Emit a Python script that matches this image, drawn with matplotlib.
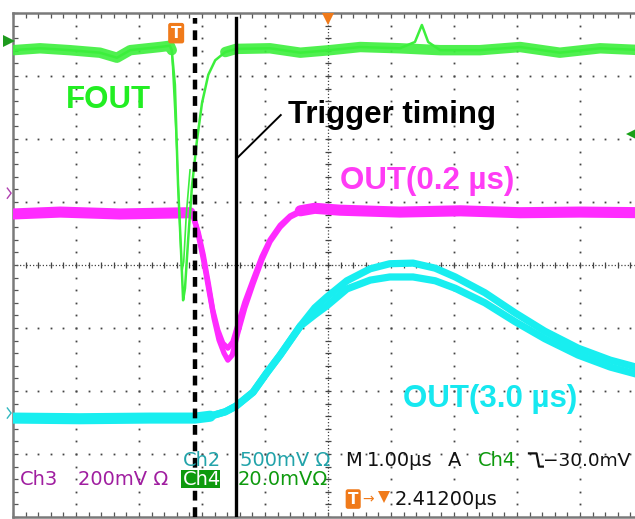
import numpy as np
import matplotlib
matplotlib.use("Agg")
import matplotlib.pyplot as plt
from matplotlib.patches import Rectangle

# ---------------- data (time in µs from left edge, level in screen divisions) ----------
t_fout = [0.00, 0.43, 0.90, 1.38, 1.65, 1.86, 2.33, 2.49, 2.52, 2.57, 2.62, 2.67, 2.70, 2.73,
          2.78, 2.84, 2.92, 3.00, 3.10, 3.21, 3.37, 3.54, 4.08, 4.56, 5.03, 5.51, 6.14, 6.38,
          6.49, 6.59, 6.78, 7.41, 8.05, 8.68, 9.32, 10.0]
v_fout = [7.41, 7.44, 7.41, 7.37, 7.29, 7.41, 7.46, 7.48, 7.41, 6.86, 5.27, 4.16, 3.44, 3.63,
          4.40, 5.24, 5.98, 6.57, 7.02, 7.25, 7.38, 7.43, 7.44, 7.37, 7.41, 7.46, 7.44, 7.54,
          7.81, 7.54, 7.41, 7.41, 7.46, 7.37, 7.44, 7.41]
t_fout2 = [2.52, 2.60, 2.65, 2.68, 2.71, 2.75, 2.81]
v_fout2 = [7.41, 5.83, 4.56, 3.89, 4.05, 4.79, 5.51]

t_out02 = [0.00, 0.75, 1.70, 2.81, 2.86, 2.94, 3.02, 3.10, 3.17, 3.25, 3.33, 3.41, 3.49, 3.57,
           3.68, 3.81, 3.95, 4.08, 4.24, 4.40, 4.56, 4.79, 5.19, 6.14, 7.10, 8.05, 9.00, 10.0]
v_out02 = [4.81, 4.84, 4.81, 4.83, 4.78, 4.52, 4.16, 3.71, 3.29, 2.97, 2.76, 2.68, 2.78, 3.05,
           3.41, 3.76, 4.13, 4.40, 4.63, 4.78, 4.86, 4.90, 4.87, 4.84, 4.86, 4.83, 4.84, 4.83]
t_out02b = [2.81, 2.87, 2.95, 3.03, 3.11, 3.19, 3.27, 3.35, 3.41, 3.48, 3.56, 3.68, 3.81, 3.95,
            4.08, 4.24, 4.40, 4.56]
v_out02b = [4.83, 4.75, 4.44, 4.05, 3.60, 3.16, 2.81, 2.60, 2.49, 2.57, 2.89, 3.32, 3.70, 4.08,
            4.37, 4.60, 4.76, 4.84]

t_out30_base = [0.00, 1.06, 2.17, 2.89, 3.13, 3.37, 3.54, 3.81, 4.03, 4.24, 4.56]
v_out30_base = [1.57, 1.56, 1.57, 1.57, 1.60, 1.67, 1.76, 1.98, 2.29, 2.57, 3.03]
t_out30_tail = [4.79, 4.98, 5.30, 5.67, 5.98, 6.35, 6.70, 7.02, 7.49, 7.97, 8.44, 8.97, 9.48, 10.0]
v_out30_up = [3.32, 3.49, 3.75, 3.94, 4.02, 4.03, 3.95, 3.81, 3.56, 3.24, 2.95, 2.68, 2.49, 2.35]
v_out30_low = [3.21, 3.35, 3.62, 3.76, 3.81, 3.81, 3.75, 3.63, 3.40, 3.10, 2.83, 2.57, 2.38, 2.24]

cursor_times = [2.89, 3.54]          # dashed, solid
trigger_label = "Trigger timing"
ch_labels = ["FOUT", "OUT(0.2 µs)", "OUT(3.0 µs)"]

# ---------------- figure ----------------
W, H = 635, 519
fig = plt.figure(figsize=(W / 100, H / 100), dpi=100)
fig.patch.set_facecolor("white")
ax = fig.add_axes([13 / W, 2 / H, 630 / W, 504 / H])
ax.set_xlim(0, 10)
ax.set_ylim(0, 8)
ax.set_facecolor("white")

# border ticks
ax.set_xticks(np.arange(0, 10.001, 0.2))
ax.set_yticks(np.arange(0, 8.001, 0.2))
ax.tick_params(direction="in", length=3.5, width=0.9, color="#555555",
               top=True, right=True, labelbottom=False, labelleft=False)
for s in ax.spines.values():
    s.set_color("#7a7a7a")
    s.set_linewidth(1.8)

gcol = "#444444"
fine = np.arange(0, 10.001, 0.2)
finey = np.arange(0, 8.001, 0.2)
for gx in range(1, 10):
    if gx == 5:
        continue
    ax.plot(np.full_like(finey, gx), finey, ls="none", marker="s", ms=1.3, mew=0, color=gcol, zorder=1)
for gy in range(1, 8):
    if gy == 4:
        continue
    ax.plot(fine, np.full_like(fine, gy), ls="none", marker="s", ms=1.3, mew=0, color=gcol, zorder=1)
# center cross
ax.plot([0, 10], [4, 4], ls=(0, (1, 1.6)), lw=0.9, color=gcol, zorder=1)
ax.plot([5, 5], [0, 8], ls=(0, (1, 1.6)), lw=0.9, color=gcol, zorder=1)
ax.plot(fine, np.full_like(fine, 4), ls="none", marker="|", ms=4.5, mew=0.9, color=gcol, zorder=1)
ax.plot(np.full_like(finey, 5), finey, ls="none", marker="_", ms=4.5, mew=0.9, color=gcol, zorder=1)

# ---------------- traces ----------------
cyan = "#18eef0"
mag = "#ff2bff"
grn = "#3cef3c"

tb = np.array(t_out30_base); vb = np.array(v_out30_base)
tt = np.array(t_out30_tail)
ax.plot(tb[:5], vb[:5], color=cyan, lw=8.0, solid_capstyle="round", zorder=3)
ax.plot(np.r_[tb, tt], np.r_[vb, v_out30_up], color=cyan, lw=5.2, zorder=3)
ax.plot(np.r_[tb, tt], np.r_[vb, v_out30_low], color=cyan, lw=5.2, zorder=3)

ta = np.array(t_out02); va = np.array(v_out02)
ax.plot(ta[:4], va[:4], color=mag, lw=8.0, solid_capstyle="round", zorder=4)
ax.plot(ta[20:], va[20:], color=mag, lw=8.0, solid_capstyle="round", zorder=4)
ax.plot(ta, va, color=mag, lw=3.8, zorder=4)
ax.plot(t_out02b, v_out02b, color=mag, lw=3.8, zorder=4)

tf = np.array(t_fout); vf = np.array(v_fout)
spike = [27, 28, 29]
tf_band = np.delete(tf, spike); vf_band = np.delete(vf, spike)
ax.plot(tf_band[:9], vf_band[:9], color=grn, lw=7.5, alpha=0.9, solid_capstyle="round", zorder=5)
ax.plot(tf_band[20:], vf_band[20:], color=grn, lw=7.5, alpha=0.9, solid_capstyle="round", zorder=5)
ax.plot(tf, vf, color=grn, lw=1.8, zorder=5)
ax.plot(t_fout2, v_fout2, color=grn, lw=1.2, zorder=5)

# cursors
ytop = 7.92
ax.plot([cursor_times[0]] * 2, [0, ytop], color="black", lw=3.2, ls=(0, (2.2, 1.5)), zorder=6)
ax.plot([cursor_times[1]] * 2, [0, ytop], color="black", lw=2.4, zorder=6)
ax.plot([3.56, 4.25], [5.70, 6.38], color="black", lw=1.4, zorder=6)

# ---------------- labels ----------------
big = dict(family="Liberation Sans", fontweight="bold", fontsize=22.5, zorder=7)
ax.text(0.84, 6.49, ch_labels[0], color="#22ee22", va="baseline", **big)
ax.text(4.37, 6.25, trigger_label, color="black", va="baseline", **big)
ax.text(5.19, 5.21, ch_labels[1], color="#ff3cf5", va="baseline", **big)
ax.text(6.19, 1.75, ch_labels[2], color="#16e8f0", va="baseline", **big)

small = dict(family="DejaVu Sans", fontsize=14, va="baseline", zorder=7, clip_on=False)
teal = "#22a3aa"; purple = "#a01ea0"; dgreen = "#0e9a0e"; orange = "#f07a1a"
ax.text(2.70, 0.81, "Ch2", color=teal, **small)
ax.text(3.60, 0.81, "500mV Ω", color=teal, **small)
ax.text(5.27, 0.81, "M", color="#111111", **small)
ax.text(5.62, 0.81, "1.00µs", color="#111111", **small)
ax.text(6.90, 0.81, "A", color="#111111", **small)
ax.text(7.38, 0.81, "Ch4", color=dgreen, **small)
ax.plot([8.19, 8.31, 8.35, 8.41], [1.01, 1.01, 0.80, 0.80], color="#111111", lw=1.6, zorder=7, clip_on=False)
small_r = dict(small, fontsize=13.3)
ax.text(8.42, 0.81, "−30.0mV", color="#111111", **small_r)

ax.text(0.11, 0.51, "Ch3", color=purple, **small)
ax.text(1.03, 0.51, "200mV Ω", color=purple, **small)
ax.add_patch(Rectangle((2.67, 0.46), 0.62, 0.29, facecolor=dgreen, edgecolor="none", zorder=6.5))
ax.text(2.70, 0.51, "Ch4", color="white", **small)
ax.text(3.56, 0.51, "20.0mVΩ", color=dgreen, **small)

ax.text(5.40, 0.285, "T", color="white", fontsize=11, fontweight="bold", ha="center", va="center",
        family="DejaVu Sans", zorder=7,
        bbox=dict(boxstyle="round,pad=0.15,rounding_size=0.15", fc=orange, ec="none"))
ax.text(5.55, 0.21, "→", color=orange, fontsize=10, va="baseline", zorder=7, family="DejaVu Sans")
ax.plot([5.89], [0.31], marker="v", ms=8, color=orange, mew=0, zorder=7)
ax.text(6.06, 0.19, "2.41200µs", color="#111111", **small)

# trigger position markers
ax.text(2.59, 7.68, "T", color="white", fontsize=11, fontweight="bold", ha="center", va="center",
        family="DejaVu Sans", zorder=7,
        bbox=dict(boxstyle="round,pad=0.18,rounding_size=0.15", fc=orange, ec="none"))
ax.plot([5.0], [7.90], marker="v", ms=8, color=orange, mew=0, zorder=7, clip_on=False)

# channel ground markers (left) and trigger level (right)
ax.plot([-0.06], [7.56], marker=">", ms=9, color="#1e9a1e", mew=0, clip_on=False, zorder=7)
ax.plot([-0.09, -0.03, -0.09], [5.22, 5.14, 5.06], color="#b040b0", lw=1.0, clip_on=False, zorder=7)
ax.plot([-0.09, -0.03, -0.09], [1.73, 1.65, 1.57], color="#30b8c0", lw=1.0, clip_on=False, zorder=7)
ax.plot([9.84], [6.08], marker="<", ms=10, color="#17a017", mew=0, clip_on=False, zorder=7)

fig.savefig("out.png", dpi=100, facecolor="white")
